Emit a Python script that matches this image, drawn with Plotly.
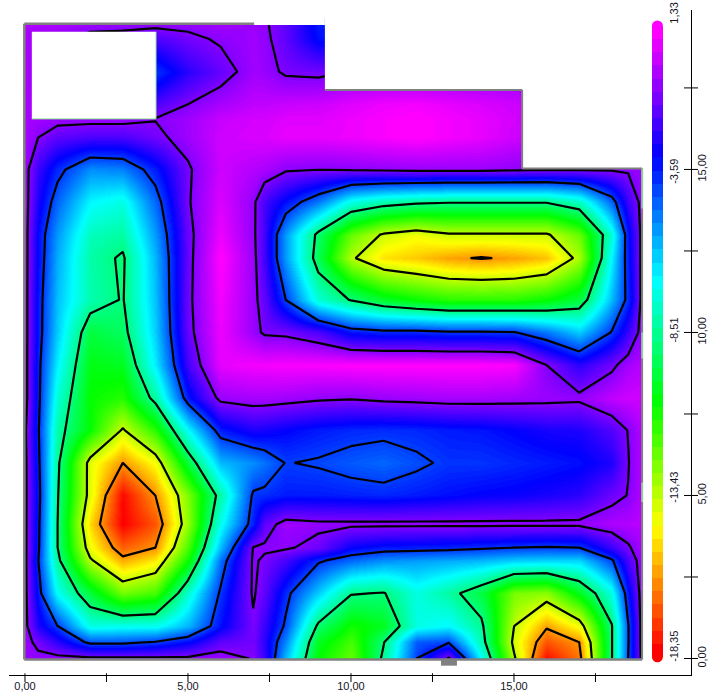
import colorsys
import plotly.graph_objects as go

# Field data, metres and level values
x_m = [0, 0.4, 1, 2, 3, 4, 5, 6, 7, 7.35, 8, 9, 10, 11, 12, 13, 14, 15, 16, 17, 18, 18.5, 18.93]
y_top_down = [19.43, 19, 18, 17, 16.55, 16, 15, 14, 13, 12.28, 11, 10, 9, 8, 7, 6, 5, 4.12, 3.4, 3, 2, 1, 0.5, 0]
z_top_down = [
 [0,0,-0.1,-0.3,-0.4,-0.4,-0.4,-0.2,-0.3,-0.5,-1.2,-3.0,-3.2,-3,-3,-3,-3,-3,-3,-3,-3,-3,-3],
 [0,-0.3,-0.3,-1.0,-1.0,-1.5,-0.9,-0.5,-0.2,-0.4,-1.2,-2.8,-3.0,-3,-3,-3,-3,-3,-3,-3,-3,-3,-3],
 [0,-0.6,-1,-1,-1,-3.4,-2.0,-1.1,-0.2,-0.3,-0.8,-0.9,-0.6,-0.5,-0.5,-0.5,-0.5,-0.5,-0.5,-0.5,-0.5,-0.5,-0.5],
 [0,-0.3,-0.3,-0.3,-0.3,-1.5,-0.64,-0.1,0.3,0.3,0.4,0.5,0.8,1.0,1.1,0.9,0.7,0.5,0.3,0.3,0.3,0.3,0.3],
 [-0.1,-0.2,-0.3,-0.3,-0.3,-0.6,-0.2,0.4,0.6,0.6,0.8,0.8,1.0,1.2,1.33,1.1,0.9,0.6,0.3,0.3,0.3,0.3,0.3],
 [-0.1,-0.6,-1.2,-1.5,-1.5,-0.9,-0.2,0.5,0.7,0.7,0.9,0.9,1.0,1.2,1.33,1.1,0.9,0.5,0.3,0.3,0.3,0.3,0.3],
 [-0.2,-1.8,-3.2,-4.8,-4.6,-3.0,-0.8,0.5,0.1,0.0,-0.5,-0.6,-0.5,-0.4,-0.3,-0.3,-0.3,-0.4,-0.5,-0.5,-0.5,-0.5,-0.2],
 [-0.1,-2.3,-4.2,-6.5,-7.0,-4.2,-0.75,0.7,-0.4,-1.6,-2.8,-4.5,-7.0,-7.8,-8.2,-8.4,-8.4,-8.4,-8.4,-7.5,-4.2,-1.7,-0.3],
 [-0.1,-2.8,-5.0,-7.6,-8.0,-5.0,-1.0,1.0,-0.4,-1.7,-5.0,-8.9,-12.0,-13.6,-14.2,-13.6,-13.6,-13.6,-13.6,-12.0,-7.2,-2.8,-0.3],
 [-0.1,-2.8,-5.3,-7.9,-8.7,-5.4,-1.0,1.33,-0.3,-1.7,-5.0,-9.2,-13.2,-14.8,-15.2,-15.8,-16.1,-15.8,-15.3,-13.0,-6.5,-2.9,-0.3],
 [-0.1,-3.0,-5.6,-7.8,-8.6,-5.6,-0.9,1.1,-0.3,-1.2,-3.6,-7.2,-8.6,-9.8,-10.5,-11,-11,-11,-10.5,-9.5,-5.5,-3.2,-0.3],
 [-0.1,-3.0,-5.8,-9.5,-9.0,-5.8,-1.0,1.0,-0.3,-0.8,-0.9,-1.5,-2.9,-3.2,-3.2,-3.4,-3.4,-3.5,-4.5,-5.8,-3.5,-1.8,-0.2],
 [-0.1,-3.2,-6.4,-10.2,-10.0,-6.3,-1.6,0.9,1.1,1.1,1.2,1.2,1.33,1.33,1.33,1.33,1.33,1.2,-0.64,-2.0,-0.9,-0.1,0.2],
 [-0.1,-3.2,-7.2,-10.5,-11.0,-8.0,-2.9,-0.3,-0.1,-0.1,-0.2,-0.4,-0.5,-0.3,-0.2,-0.1,-0.1,-0.2,-0.3,-0.4,0.3,0.5,0.5],
 [-0.4,-3.4,-7.9,-10.5,-13.6,-11,-6.5,-3.0,-2.2,-2.3,-2.6,-3.0,-3.2,-3.3,-3.2,-3.0,-2.9,-2.6,-2.3,-2.2,-1.4,-0.6,0.2],
 [-0.3,-3.2,-8.2,-14.0,-16.0,-14.3,-9.5,-5.5,-4.8,-4.4,-3.55,-3.7,-4.0,-4.2,-3.8,-3.4,-3.4,-3.2,-3.0,-2.8,-2.2,-0.7,0.2],
 [-0.3,-3.0,-8.4,-14.0,-18.2,-16.0,-12.3,-7.9,-3.4,-3.3,-3.0,-3.0,-3.1,-3.2,-3.0,-2.8,-2.6,-2.5,-2.3,-2.0,-1.0,-0.6,0.2],
 [-0.3,-3.2,-8.5,-15.0,-18.35,-17.0,-12.6,-6.8,-3.0,-1.2,-0.2,-0.4,-0.4,-0.4,-0.4,-0.4,-0.4,-0.4,-0.4,-0.4,0,0.1,0.2],
 [-0.3,-3.3,-8.5,-14.2,-16.8,-16.0,-11.5,-5.5,-0.6,-0.5,-0.5,-1.0,-2.6,-3.0,-3.1,-3.2,-3.4,-3.6,-3.7,-3.6,-1.8,-0.8,0.0],
 [-0.3,-3.5,-8.1,-13.2,-15.6,-14.6,-10.5,-4.3,-0.5,-0.8,-1.6,-3.4,-4.3,-4.9,-5.1,-5.3,-5.5,-5.9,-6.0,-6.0,-3.8,-1.5,-0.1],
 [-0.3,-3.0,-6.7,-9.6,-12.2,-11.5,-7.2,-3.4,-0.5,-1.2,-3.2,-5.8,-8.4,-8.6,-7.0,-8.0,-9.5,-12.3,-12.6,-10.0,-7.0,-2.8,-0.1],
 [-0.3,-2.2,-3.6,-7.0,-6.8,-6.8,-5.4,-2.8,-0.8,-1.8,-3.8,-8.8,-10.7,-10.0,-7.0,-6.5,-8.2,-13.4,-15.8,-14.2,-8.6,-3.7,-0.2],
 [-0.3,-0.9,-2.0,-3.9,-3.9,-3.5,-2.7,-1.2,-0.9,-2.0,-4.7,-10.0,-11.5,-8.6,-4.0,-3.7,-7.8,-13.8,-17.0,-16.0,-8.6,-3.7,-0.2],
 [-0.3,-0.4,-0.3,-0.4,-0.4,-0.4,-0.4,-0.2,-0.7,-1.8,-5.5,-10.5,-12.0,-8.2,-3.6,-0.45,-6.6,-13.2,-18.2,-16.5,-8.6,-3.6,-0.3],
]
contour_levels = [-0.64, -3.59, -8.51, -13.43, -16.0]
z_min, z_max = -18.35, 1.33

x_tick_vals = [0, 2.5, 5, 7.5, 10, 12.5, 15, 17.5]
x_tick_text = ["0,00", "", "5,00", "", "10,00", "", "15,00", ""]
y_tick_vals = [0, 2.5, 5, 7.5, 10, 12.5, 15, 17.5]
y_tick_text = ["0,00", "", "5,00", "", "10,00", "", "15,00", ""]
legend_labels = ["1,33", "-3,59", "-8,51", "-13,43", "-18,35"]
legend_label_y = [19.8, 14.95, 10.08, 5.26, 0.38]

y_m = y_top_down[::-1]
z = z_top_down[::-1]

FONT = "Liberation Sans"
TEXT = "#15151f"
FS = 11

def rainbow(n):
    out = []
    for i in range(n):
        r, g, b = colorsys.hsv_to_rgb((300 * i / (n - 1)) / 360, 1, 1)
        col = f"rgb({round(r*255)},{round(g*255)},{round(b*255)})"
        out += [[i / n, col], [(i + 1) / n, col]]
    return out

fig = go.Figure()
fig.add_trace(go.Heatmap(x=x_m, y=y_m, z=z, zmin=z_min, zmax=z_max, zsmooth="best",
                         colorscale=rainbow(160), hoverinfo="skip", showscale=False))
# legend strip: stepped scale, its own trace sits outside the visible range
fig.add_trace(go.Heatmap(
    x=[40, 41], y=[40], z=[[z_min, z_max]], zmin=z_min, zmax=z_max, colorscale=rainbow(48), hoverinfo="skip",
    colorbar=dict(x=0.9428, xanchor="left", xpad=0, y=0.5015, yanchor="middle", ypad=0,
                  thickness=11, thicknessmode="pixels", len=631, lenmode="pixels",
                  outlinewidth=0, ticks="", showticklabels=False),
))
for lv in contour_levels:
    fig.add_trace(go.Contour(
        x=x_m, y=y_m, z=z, autocontour=False, showscale=False, hoverinfo="skip",
        contours=dict(start=lv, end=lv, size=1, coloring="none"),
        line=dict(color="black", width=2.2, smoothing=0),
    ))

# legend caps
fig.add_trace(go.Scatter(x=[19.4, 19.4], y=[19.4, 0.05], mode="markers", hoverinfo="skip", showlegend=False,
                         marker=dict(size=11, color=["rgb(255,0,255)", "rgb(255,0,0)"]), cliponaxis=False))
# ticks crossing the axis lines
x0_axis = -0.506
x_right = 20.43
fig.add_trace(go.Scatter(x=x_tick_vals, y=[x0_axis] * len(x_tick_vals), mode="markers", hoverinfo="skip", showlegend=False,
                         cliponaxis=False, marker=dict(symbol="line-ns", size=10, line=dict(width=1, color="black"))))
fig.add_trace(go.Scatter(x=[x_right] * len(y_tick_vals), y=y_tick_vals, mode="markers", hoverinfo="skip", showlegend=False,
                         cliponaxis=False, marker=dict(symbol="line-ew", size=10, line=dict(width=1, color="black"))))

GRAY = "#808080"
GREEN = "#8fe08f"
def wall(x0, y0, x1, y1, color=GRAY, w=2):
    return dict(type="line", x0=x0, y0=y0, x1=x1, y1=y1, line=dict(color=color, width=w), layer="above")
def block(x0, y0, x1, y1, color="white"):
    return dict(type="rect", x0=x0, y0=y0, x1=x1, y1=y1, fillcolor=color, line=dict(width=0), layer="above")

shapes = [
    block(0.21, 16.55, 4.02, 19.22),
    block(9.2, 17.44, 19.2, 19.85),
    block(15.25, 15.03, 19.2, 17.5),
    block(-0.45, 19.43, 9.2, 19.85),
    block(-0.45, -0.45, -0.02, 19.85),
    block(-0.45, -0.45, 19.2, -0.02),
    block(18.93, -0.45, 19.2, 19.85),
    wall(-0.02, -0.03, -0.02, 19.47, GRAY, 2.5),
    wall(-0.02, 19.47, 7.03, 19.47, GRAY, 2.5),
    wall(-0.02, -0.03, 18.93, -0.03, GRAY, 2.5),
    wall(9.2, 17.44, 15.25, 17.44),
    wall(15.25, 17.44, 15.25, 15.03),
    wall(15.25, 15.03, 18.93, 15.03),
    wall(18.93, 15.03, 18.93, -0.03),
    wall(18.93, 15.03, 18.93, 13.8, GREEN, 1.5),
    wall(18.93, 10, 18.93, 9.2, GREEN, 1.5),
    wall(18.93, 5.4, 18.93, 4.8, GREEN, 1.5),
    wall(0.21, 16.55, 4.02, 16.55, GREEN, 1),
    wall(4.02, 16.55, 4.02, 19.22, GREEN, 1),
    block(12.76, -0.22, 13.25, -0.03, GRAY),
]

annotations = [
    dict(x=19.9, y=yy, xref="x", yref="y", text=t, showarrow=False, textangle=-90,
         font=dict(family=FONT, size=FS, color=TEXT))
    for t, yy in zip(legend_labels, legend_label_y)
] + [
    dict(x=20.0, y=-0.84, xref="x", yref="y", text="X [m]", showarrow=False, font=dict(family=FONT, size=FS, color=TEXT)),
    dict(x=20.74, y=19.65, xref="x", yref="y", text="Y [m]", showarrow=False, textangle=-90, font=dict(family=FONT, size=FS, color=TEXT)),
]

fig.update_layout(
    width=710, height=698, autosize=False, paper_bgcolor="white", plot_bgcolor="white",
    margin=dict(l=9, r=19, t=10, b=23, pad=0, autoexpand=False), showlegend=False,
    shapes=shapes, annotations=annotations,
    xaxis=dict(range=[-0.49, 20.43], showgrid=False, zeroline=False, showline=True, linecolor="black", linewidth=1,
               tickmode="array", tickvals=x_tick_vals, ticktext=x_tick_text, ticks="outside", ticklen=1,
               tickcolor="rgba(0,0,0,0)", tickangle=0, tickfont=dict(family=FONT, size=FS, color=TEXT)),
    yaxis=dict(range=[-0.506, 19.89], side="right", showgrid=False, zeroline=False, showline=True, linecolor="black", linewidth=1,
               tickmode="array", tickvals=y_tick_vals, ticktext=y_tick_text, ticks="outside", ticklen=1,
               tickcolor="rgba(0,0,0,0)", tickangle=-90, tickfont=dict(family=FONT, size=FS, color=TEXT)),
)
fig.write_html("out.html", config={"displayModeBar": False},
               post_script='document.body.style.margin="0";document.documentElement.style.overflow="hidden";')
